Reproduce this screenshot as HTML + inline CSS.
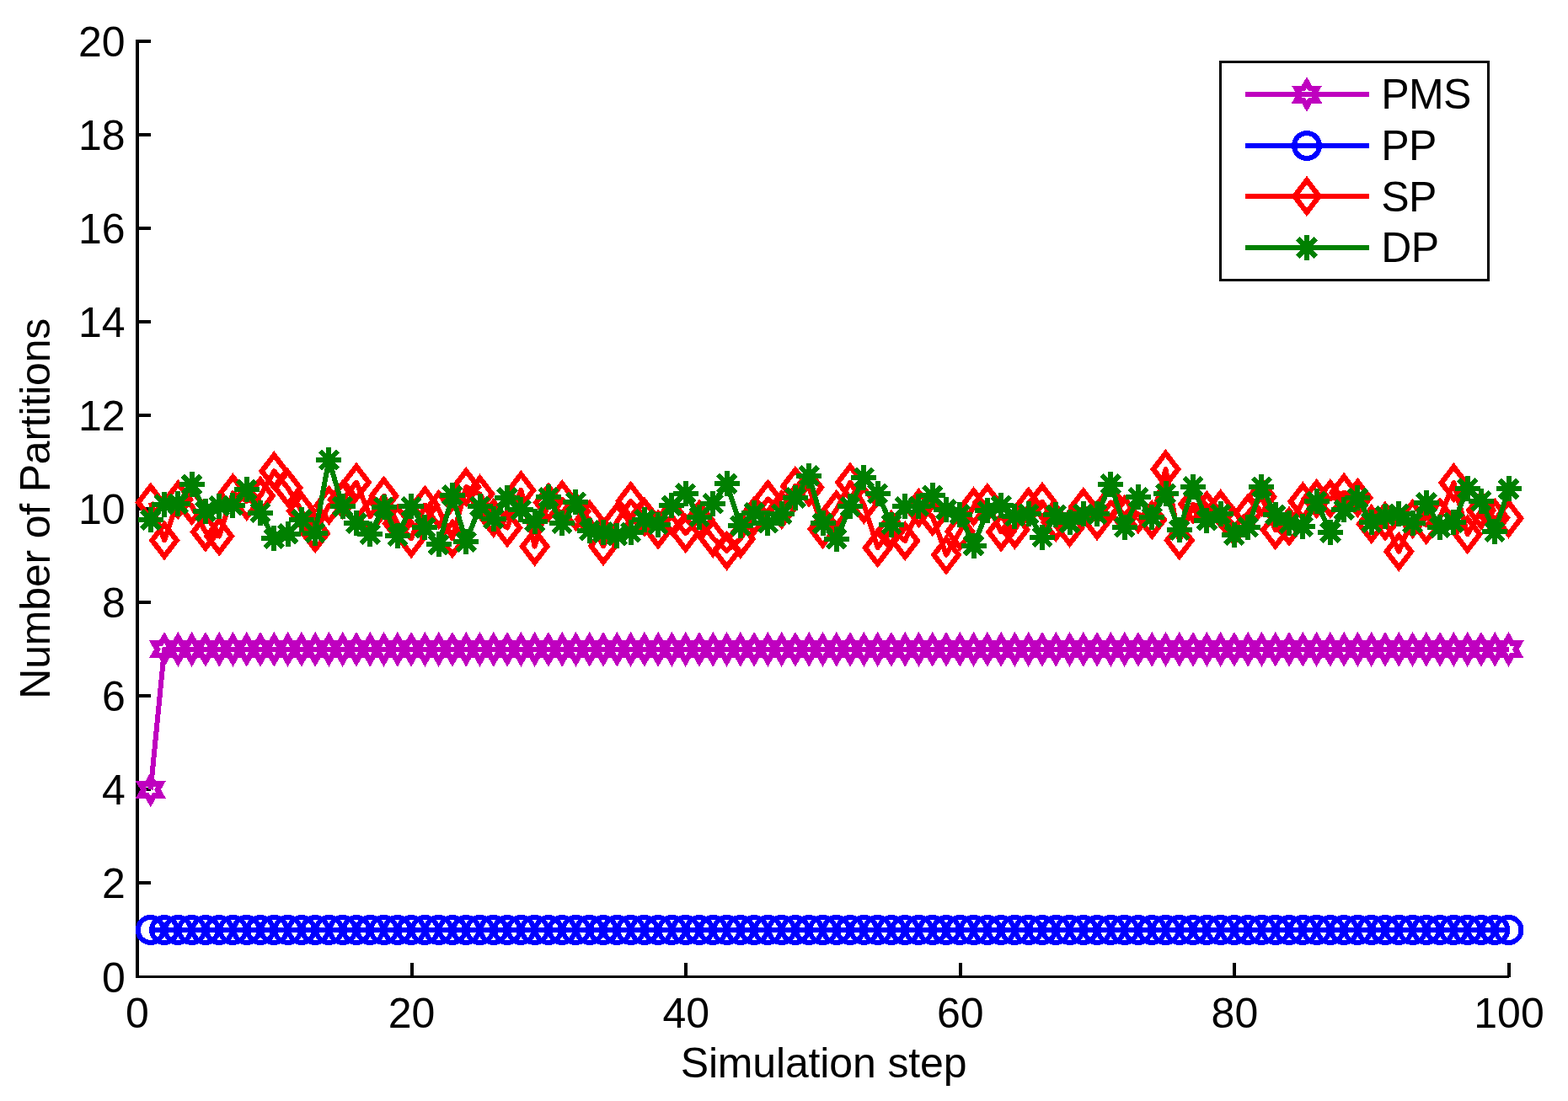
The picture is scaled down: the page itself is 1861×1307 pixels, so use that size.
<!DOCTYPE html>
<html lang="en"><head><meta charset="utf-8"><title>Number of Partitions vs Simulation step</title>
<style>html,body{margin:0;padding:0;background:#fff}body{width:1861px;height:1307px;overflow:hidden}svg{display:block}text{font-family:"Liberation Sans",Arial,Helvetica,sans-serif;font-size:50px;fill:#000}</style></head><body>
<svg width="1861" height="1307" viewBox="0 0 1861 1307">
<rect width="1861" height="1307" fill="#fff"/>
<defs>
<polygon id="mh" points="0,-14.2 4.1,-7.1 12.3,-7.1 8.2,0 12.3,7.1 4.1,7.1 0,14.2 -4.1,7.1 -12.3,7.1 -8.2,0 -12.3,-7.1 -4.1,-7.1" fill="none" stroke="#bf00bf" stroke-width="6.8" stroke-linejoin="miter" stroke-miterlimit="10"/>
<circle id="mc" r="15" fill="none" stroke="#00f" stroke-width="6"/>
<polygon id="md" points="0,-19 14.6,0 0,19 -14.6,0" fill="none" stroke="#f00" stroke-width="6.3" stroke-linejoin="miter" stroke-miterlimit="10"/>
<path id="ma" d="M-15,0H15M0,-15V15M-10.61,-10.61L10.61,10.61M-10.61,10.61L10.61,-10.61" fill="none" stroke="#008000" stroke-width="6"/>
</defs>
<g fill="#000" shape-rendering="crispEdges">
<rect x="161" y="47" width="4" height="1114"/>
<rect x="161" y="1158" width="1630" height="3"/>
<rect x="487" y="1143" width="4" height="17"/>
<rect x="812" y="1143" width="4" height="17"/>
<rect x="1138" y="1143" width="4" height="17"/>
<rect x="1463" y="1143" width="4" height="17"/>
<rect x="1789" y="1143" width="4" height="17"/>
<rect x="161" y="1046" width="18" height="4"/>
<rect x="161" y="935" width="18" height="4"/>
<rect x="161" y="824" width="18" height="4"/>
<rect x="161" y="713" width="18" height="4"/>
<rect x="161" y="602" width="18" height="4"/>
<rect x="161" y="491" width="18" height="4"/>
<rect x="161" y="380" width="18" height="4"/>
<rect x="161" y="269" width="18" height="4"/>
<rect x="161" y="158" width="18" height="4"/>
<rect x="161" y="47" width="18" height="4"/>
</g>
<g>
<text x="163" y="1219.5" text-anchor="middle">0</text>
<text x="488.6" y="1219.5" text-anchor="middle">20</text>
<text x="814.2" y="1219.5" text-anchor="middle">40</text>
<text x="1139.8" y="1219.5" text-anchor="middle">60</text>
<text x="1465.4" y="1219.5" text-anchor="middle">80</text>
<text x="1791" y="1219.5" text-anchor="middle">100</text>
<text x="148.7" y="1177.6" text-anchor="end">0</text>
<text x="148.7" y="1065.6" text-anchor="end">2</text>
<text x="148.7" y="954.6" text-anchor="end">4</text>
<text x="148.7" y="843.6" text-anchor="end">6</text>
<text x="148.7" y="732.6" text-anchor="end">8</text>
<text x="148.7" y="621.6" text-anchor="end">10</text>
<text x="148.7" y="510.6" text-anchor="end">12</text>
<text x="148.7" y="399.6" text-anchor="end">14</text>
<text x="148.7" y="288.6" text-anchor="end">16</text>
<text x="148.7" y="177.6" text-anchor="end">18</text>
<text x="148.7" y="66.6" text-anchor="end">20</text>
<text x="977.5" y="1279" text-anchor="middle" letter-spacing="-0.15">Simulation step</text>
<text transform="translate(59,603.8) rotate(-90)" text-anchor="middle" letter-spacing="-0.2">Number of Partitions</text>
</g>
<g shape-rendering="crispEdges">
<polyline points="178.78,937.4 195.06,770.83 211.34,770.83 227.62,770.83 243.9,770.83 260.18,770.83 276.46,770.83 292.74,770.83 309.02,770.83 325.3,770.83 341.58,770.83 357.86,770.83 374.14,770.83 390.42,770.83 406.7,770.83 422.98,770.83 439.26,770.83 455.54,770.83 471.82,770.83 488.1,770.83 504.38,770.83 520.66,770.83 536.94,770.83 553.22,770.83 569.5,770.83 585.78,770.83 602.06,770.83 618.34,770.83 634.62,770.83 650.9,770.83 667.18,770.83 683.46,770.83 699.74,770.83 716.02,770.83 732.3,770.83 748.58,770.83 764.86,770.83 781.14,770.83 797.42,770.83 813.7,770.83 829.98,770.83 846.26,770.83 862.54,770.83 878.82,770.83 895.1,770.83 911.38,770.83 927.66,770.83 943.94,770.83 960.22,770.83 976.5,770.83 992.78,770.83 1009.06,770.83 1025.34,770.83 1041.62,770.83 1057.9,770.83 1074.18,770.83 1090.46,770.83 1106.74,770.83 1123.02,770.83 1139.3,770.83 1155.58,770.83 1171.86,770.83 1188.14,770.83 1204.42,770.83 1220.7,770.83 1236.98,770.83 1253.26,770.83 1269.54,770.83 1285.82,770.83 1302.1,770.83 1318.38,770.83 1334.66,770.83 1350.94,770.83 1367.22,770.83 1383.5,770.83 1399.78,770.83 1416.06,770.83 1432.34,770.83 1448.62,770.83 1464.9,770.83 1481.18,770.83 1497.46,770.83 1513.74,770.83 1530.02,770.83 1546.3,770.83 1562.58,770.83 1578.86,770.83 1595.14,770.83 1611.42,770.83 1627.7,770.83 1643.98,770.83 1660.26,770.83 1676.54,770.83 1692.82,770.83 1709.1,770.83 1725.38,770.83 1741.66,770.83 1757.94,770.83 1774.22,770.83 1790.5,770.83" fill="none" stroke="#bf00bf" stroke-width="6" stroke-linejoin="round"/>
<use href="#mh" x="178.78" y="937.4"/>
<use href="#mh" x="195.06" y="770.83"/>
<use href="#mh" x="211.34" y="770.83"/>
<use href="#mh" x="227.62" y="770.83"/>
<use href="#mh" x="243.9" y="770.83"/>
<use href="#mh" x="260.18" y="770.83"/>
<use href="#mh" x="276.46" y="770.83"/>
<use href="#mh" x="292.74" y="770.83"/>
<use href="#mh" x="309.02" y="770.83"/>
<use href="#mh" x="325.3" y="770.83"/>
<use href="#mh" x="341.58" y="770.83"/>
<use href="#mh" x="357.86" y="770.83"/>
<use href="#mh" x="374.14" y="770.83"/>
<use href="#mh" x="390.42" y="770.83"/>
<use href="#mh" x="406.7" y="770.83"/>
<use href="#mh" x="422.98" y="770.83"/>
<use href="#mh" x="439.26" y="770.83"/>
<use href="#mh" x="455.54" y="770.83"/>
<use href="#mh" x="471.82" y="770.83"/>
<use href="#mh" x="488.1" y="770.83"/>
<use href="#mh" x="504.38" y="770.83"/>
<use href="#mh" x="520.66" y="770.83"/>
<use href="#mh" x="536.94" y="770.83"/>
<use href="#mh" x="553.22" y="770.83"/>
<use href="#mh" x="569.5" y="770.83"/>
<use href="#mh" x="585.78" y="770.83"/>
<use href="#mh" x="602.06" y="770.83"/>
<use href="#mh" x="618.34" y="770.83"/>
<use href="#mh" x="634.62" y="770.83"/>
<use href="#mh" x="650.9" y="770.83"/>
<use href="#mh" x="667.18" y="770.83"/>
<use href="#mh" x="683.46" y="770.83"/>
<use href="#mh" x="699.74" y="770.83"/>
<use href="#mh" x="716.02" y="770.83"/>
<use href="#mh" x="732.3" y="770.83"/>
<use href="#mh" x="748.58" y="770.83"/>
<use href="#mh" x="764.86" y="770.83"/>
<use href="#mh" x="781.14" y="770.83"/>
<use href="#mh" x="797.42" y="770.83"/>
<use href="#mh" x="813.7" y="770.83"/>
<use href="#mh" x="829.98" y="770.83"/>
<use href="#mh" x="846.26" y="770.83"/>
<use href="#mh" x="862.54" y="770.83"/>
<use href="#mh" x="878.82" y="770.83"/>
<use href="#mh" x="895.1" y="770.83"/>
<use href="#mh" x="911.38" y="770.83"/>
<use href="#mh" x="927.66" y="770.83"/>
<use href="#mh" x="943.94" y="770.83"/>
<use href="#mh" x="960.22" y="770.83"/>
<use href="#mh" x="976.5" y="770.83"/>
<use href="#mh" x="992.78" y="770.83"/>
<use href="#mh" x="1009.06" y="770.83"/>
<use href="#mh" x="1025.34" y="770.83"/>
<use href="#mh" x="1041.62" y="770.83"/>
<use href="#mh" x="1057.9" y="770.83"/>
<use href="#mh" x="1074.18" y="770.83"/>
<use href="#mh" x="1090.46" y="770.83"/>
<use href="#mh" x="1106.74" y="770.83"/>
<use href="#mh" x="1123.02" y="770.83"/>
<use href="#mh" x="1139.3" y="770.83"/>
<use href="#mh" x="1155.58" y="770.83"/>
<use href="#mh" x="1171.86" y="770.83"/>
<use href="#mh" x="1188.14" y="770.83"/>
<use href="#mh" x="1204.42" y="770.83"/>
<use href="#mh" x="1220.7" y="770.83"/>
<use href="#mh" x="1236.98" y="770.83"/>
<use href="#mh" x="1253.26" y="770.83"/>
<use href="#mh" x="1269.54" y="770.83"/>
<use href="#mh" x="1285.82" y="770.83"/>
<use href="#mh" x="1302.1" y="770.83"/>
<use href="#mh" x="1318.38" y="770.83"/>
<use href="#mh" x="1334.66" y="770.83"/>
<use href="#mh" x="1350.94" y="770.83"/>
<use href="#mh" x="1367.22" y="770.83"/>
<use href="#mh" x="1383.5" y="770.83"/>
<use href="#mh" x="1399.78" y="770.83"/>
<use href="#mh" x="1416.06" y="770.83"/>
<use href="#mh" x="1432.34" y="770.83"/>
<use href="#mh" x="1448.62" y="770.83"/>
<use href="#mh" x="1464.9" y="770.83"/>
<use href="#mh" x="1481.18" y="770.83"/>
<use href="#mh" x="1497.46" y="770.83"/>
<use href="#mh" x="1513.74" y="770.83"/>
<use href="#mh" x="1530.02" y="770.83"/>
<use href="#mh" x="1546.3" y="770.83"/>
<use href="#mh" x="1562.58" y="770.83"/>
<use href="#mh" x="1578.86" y="770.83"/>
<use href="#mh" x="1595.14" y="770.83"/>
<use href="#mh" x="1611.42" y="770.83"/>
<use href="#mh" x="1627.7" y="770.83"/>
<use href="#mh" x="1643.98" y="770.83"/>
<use href="#mh" x="1660.26" y="770.83"/>
<use href="#mh" x="1676.54" y="770.83"/>
<use href="#mh" x="1692.82" y="770.83"/>
<use href="#mh" x="1709.1" y="770.83"/>
<use href="#mh" x="1725.38" y="770.83"/>
<use href="#mh" x="1741.66" y="770.83"/>
<use href="#mh" x="1757.94" y="770.83"/>
<use href="#mh" x="1774.22" y="770.83"/>
<use href="#mh" x="1790.5" y="770.83"/>
</g>
<g shape-rendering="crispEdges">
<polyline points="178.78,1103.97 195.06,1103.97 211.34,1103.97 227.62,1103.97 243.9,1103.97 260.18,1103.97 276.46,1103.97 292.74,1103.97 309.02,1103.97 325.3,1103.97 341.58,1103.97 357.86,1103.97 374.14,1103.97 390.42,1103.97 406.7,1103.97 422.98,1103.97 439.26,1103.97 455.54,1103.97 471.82,1103.97 488.1,1103.97 504.38,1103.97 520.66,1103.97 536.94,1103.97 553.22,1103.97 569.5,1103.97 585.78,1103.97 602.06,1103.97 618.34,1103.97 634.62,1103.97 650.9,1103.97 667.18,1103.97 683.46,1103.97 699.74,1103.97 716.02,1103.97 732.3,1103.97 748.58,1103.97 764.86,1103.97 781.14,1103.97 797.42,1103.97 813.7,1103.97 829.98,1103.97 846.26,1103.97 862.54,1103.97 878.82,1103.97 895.1,1103.97 911.38,1103.97 927.66,1103.97 943.94,1103.97 960.22,1103.97 976.5,1103.97 992.78,1103.97 1009.06,1103.97 1025.34,1103.97 1041.62,1103.97 1057.9,1103.97 1074.18,1103.97 1090.46,1103.97 1106.74,1103.97 1123.02,1103.97 1139.3,1103.97 1155.58,1103.97 1171.86,1103.97 1188.14,1103.97 1204.42,1103.97 1220.7,1103.97 1236.98,1103.97 1253.26,1103.97 1269.54,1103.97 1285.82,1103.97 1302.1,1103.97 1318.38,1103.97 1334.66,1103.97 1350.94,1103.97 1367.22,1103.97 1383.5,1103.97 1399.78,1103.97 1416.06,1103.97 1432.34,1103.97 1448.62,1103.97 1464.9,1103.97 1481.18,1103.97 1497.46,1103.97 1513.74,1103.97 1530.02,1103.97 1546.3,1103.97 1562.58,1103.97 1578.86,1103.97 1595.14,1103.97 1611.42,1103.97 1627.7,1103.97 1643.98,1103.97 1660.26,1103.97 1676.54,1103.97 1692.82,1103.97 1709.1,1103.97 1725.38,1103.97 1741.66,1103.97 1757.94,1103.97 1774.22,1103.97 1790.5,1103.97" fill="none" stroke="#00f" stroke-width="6" stroke-linejoin="round"/>
<use href="#mc" x="178.78" y="1103.97"/>
<use href="#mc" x="195.06" y="1103.97"/>
<use href="#mc" x="211.34" y="1103.97"/>
<use href="#mc" x="227.62" y="1103.97"/>
<use href="#mc" x="243.9" y="1103.97"/>
<use href="#mc" x="260.18" y="1103.97"/>
<use href="#mc" x="276.46" y="1103.97"/>
<use href="#mc" x="292.74" y="1103.97"/>
<use href="#mc" x="309.02" y="1103.97"/>
<use href="#mc" x="325.3" y="1103.97"/>
<use href="#mc" x="341.58" y="1103.97"/>
<use href="#mc" x="357.86" y="1103.97"/>
<use href="#mc" x="374.14" y="1103.97"/>
<use href="#mc" x="390.42" y="1103.97"/>
<use href="#mc" x="406.7" y="1103.97"/>
<use href="#mc" x="422.98" y="1103.97"/>
<use href="#mc" x="439.26" y="1103.97"/>
<use href="#mc" x="455.54" y="1103.97"/>
<use href="#mc" x="471.82" y="1103.97"/>
<use href="#mc" x="488.1" y="1103.97"/>
<use href="#mc" x="504.38" y="1103.97"/>
<use href="#mc" x="520.66" y="1103.97"/>
<use href="#mc" x="536.94" y="1103.97"/>
<use href="#mc" x="553.22" y="1103.97"/>
<use href="#mc" x="569.5" y="1103.97"/>
<use href="#mc" x="585.78" y="1103.97"/>
<use href="#mc" x="602.06" y="1103.97"/>
<use href="#mc" x="618.34" y="1103.97"/>
<use href="#mc" x="634.62" y="1103.97"/>
<use href="#mc" x="650.9" y="1103.97"/>
<use href="#mc" x="667.18" y="1103.97"/>
<use href="#mc" x="683.46" y="1103.97"/>
<use href="#mc" x="699.74" y="1103.97"/>
<use href="#mc" x="716.02" y="1103.97"/>
<use href="#mc" x="732.3" y="1103.97"/>
<use href="#mc" x="748.58" y="1103.97"/>
<use href="#mc" x="764.86" y="1103.97"/>
<use href="#mc" x="781.14" y="1103.97"/>
<use href="#mc" x="797.42" y="1103.97"/>
<use href="#mc" x="813.7" y="1103.97"/>
<use href="#mc" x="829.98" y="1103.97"/>
<use href="#mc" x="846.26" y="1103.97"/>
<use href="#mc" x="862.54" y="1103.97"/>
<use href="#mc" x="878.82" y="1103.97"/>
<use href="#mc" x="895.1" y="1103.97"/>
<use href="#mc" x="911.38" y="1103.97"/>
<use href="#mc" x="927.66" y="1103.97"/>
<use href="#mc" x="943.94" y="1103.97"/>
<use href="#mc" x="960.22" y="1103.97"/>
<use href="#mc" x="976.5" y="1103.97"/>
<use href="#mc" x="992.78" y="1103.97"/>
<use href="#mc" x="1009.06" y="1103.97"/>
<use href="#mc" x="1025.34" y="1103.97"/>
<use href="#mc" x="1041.62" y="1103.97"/>
<use href="#mc" x="1057.9" y="1103.97"/>
<use href="#mc" x="1074.18" y="1103.97"/>
<use href="#mc" x="1090.46" y="1103.97"/>
<use href="#mc" x="1106.74" y="1103.97"/>
<use href="#mc" x="1123.02" y="1103.97"/>
<use href="#mc" x="1139.3" y="1103.97"/>
<use href="#mc" x="1155.58" y="1103.97"/>
<use href="#mc" x="1171.86" y="1103.97"/>
<use href="#mc" x="1188.14" y="1103.97"/>
<use href="#mc" x="1204.42" y="1103.97"/>
<use href="#mc" x="1220.7" y="1103.97"/>
<use href="#mc" x="1236.98" y="1103.97"/>
<use href="#mc" x="1253.26" y="1103.97"/>
<use href="#mc" x="1269.54" y="1103.97"/>
<use href="#mc" x="1285.82" y="1103.97"/>
<use href="#mc" x="1302.1" y="1103.97"/>
<use href="#mc" x="1318.38" y="1103.97"/>
<use href="#mc" x="1334.66" y="1103.97"/>
<use href="#mc" x="1350.94" y="1103.97"/>
<use href="#mc" x="1367.22" y="1103.97"/>
<use href="#mc" x="1383.5" y="1103.97"/>
<use href="#mc" x="1399.78" y="1103.97"/>
<use href="#mc" x="1416.06" y="1103.97"/>
<use href="#mc" x="1432.34" y="1103.97"/>
<use href="#mc" x="1448.62" y="1103.97"/>
<use href="#mc" x="1464.9" y="1103.97"/>
<use href="#mc" x="1481.18" y="1103.97"/>
<use href="#mc" x="1497.46" y="1103.97"/>
<use href="#mc" x="1513.74" y="1103.97"/>
<use href="#mc" x="1530.02" y="1103.97"/>
<use href="#mc" x="1546.3" y="1103.97"/>
<use href="#mc" x="1562.58" y="1103.97"/>
<use href="#mc" x="1578.86" y="1103.97"/>
<use href="#mc" x="1595.14" y="1103.97"/>
<use href="#mc" x="1611.42" y="1103.97"/>
<use href="#mc" x="1627.7" y="1103.97"/>
<use href="#mc" x="1643.98" y="1103.97"/>
<use href="#mc" x="1660.26" y="1103.97"/>
<use href="#mc" x="1676.54" y="1103.97"/>
<use href="#mc" x="1692.82" y="1103.97"/>
<use href="#mc" x="1709.1" y="1103.97"/>
<use href="#mc" x="1725.38" y="1103.97"/>
<use href="#mc" x="1741.66" y="1103.97"/>
<use href="#mc" x="1757.94" y="1103.97"/>
<use href="#mc" x="1774.22" y="1103.97"/>
<use href="#mc" x="1790.5" y="1103.97"/>
</g>
<g shape-rendering="crispEdges">
<polyline points="178.78,596.48 195.06,641.45 211.34,593.15 227.62,600.36 243.9,631.46 260.18,636.45 276.46,585.37 292.74,594.81 309.02,588.7 325.3,559.27 341.58,579.26 357.86,606.47 374.14,633.12 390.42,599.81 406.7,593.15 422.98,572.6 439.26,613.13 455.54,588.7 471.82,621.46 488.1,639.23 504.38,599.81 520.66,604.81 536.94,639.23 553.22,578.15 569.5,586.48 585.78,614.8 602.06,626.46 618.34,582.04 634.62,648.67 650.9,596.48 667.18,593.15 683.46,607.03 699.74,616.47 716.02,648.11 732.3,619.24 748.58,594.81 764.86,613.69 781.14,628.68 797.42,613.13 813.7,633.12 829.98,616.47 846.26,638.68 862.54,653.67 878.82,639.79 895.1,612.58 911.38,592.59 927.66,604.81 943.94,577.04 960.22,578.71 976.5,628.13 992.78,604.81 1009.06,572.6 1025.34,598.7 1041.62,650.34 1057.9,628.68 1074.18,642.01 1090.46,603.14 1106.74,613.13 1123.02,658.66 1139.3,630.9 1155.58,601.47 1171.86,597.03 1188.14,631.46 1204.42,628.68 1220.7,601.47 1236.98,595.92 1253.26,619.8 1269.54,626.46 1285.82,602.03 1302.1,618.13 1318.38,596.48 1334.66,610.91 1350.94,610.36 1367.22,617.02 1383.5,557.05 1399.78,641.45 1416.06,598.7 1432.34,605.92 1448.62,604.25 1464.9,624.79 1481.18,609.25 1497.46,589.81 1513.74,629.24 1530.02,624.79 1546.3,595.37 1562.58,592.03 1578.86,592.03 1595.14,584.82 1611.42,590.92 1627.7,622.02 1643.98,618.69 1660.26,654.78 1676.54,615.91 1692.82,623.13 1709.1,614.24 1725.38,573.16 1741.66,634.23 1757.94,605.92 1774.22,614.8 1790.5,615.35" fill="none" stroke="#f00" stroke-width="6" stroke-linejoin="round"/>
<use href="#md" x="178.78" y="596.48"/>
<use href="#md" x="195.06" y="641.45"/>
<use href="#md" x="211.34" y="593.15"/>
<use href="#md" x="227.62" y="600.36"/>
<use href="#md" x="243.9" y="631.46"/>
<use href="#md" x="260.18" y="636.45"/>
<use href="#md" x="276.46" y="585.37"/>
<use href="#md" x="292.74" y="594.81"/>
<use href="#md" x="309.02" y="588.7"/>
<use href="#md" x="325.3" y="559.27"/>
<use href="#md" x="341.58" y="579.26"/>
<use href="#md" x="357.86" y="606.47"/>
<use href="#md" x="374.14" y="633.12"/>
<use href="#md" x="390.42" y="599.81"/>
<use href="#md" x="406.7" y="593.15"/>
<use href="#md" x="422.98" y="572.6"/>
<use href="#md" x="439.26" y="613.13"/>
<use href="#md" x="455.54" y="588.7"/>
<use href="#md" x="471.82" y="621.46"/>
<use href="#md" x="488.1" y="639.23"/>
<use href="#md" x="504.38" y="599.81"/>
<use href="#md" x="520.66" y="604.81"/>
<use href="#md" x="536.94" y="639.23"/>
<use href="#md" x="553.22" y="578.15"/>
<use href="#md" x="569.5" y="586.48"/>
<use href="#md" x="585.78" y="614.8"/>
<use href="#md" x="602.06" y="626.46"/>
<use href="#md" x="618.34" y="582.04"/>
<use href="#md" x="634.62" y="648.67"/>
<use href="#md" x="650.9" y="596.48"/>
<use href="#md" x="667.18" y="593.15"/>
<use href="#md" x="683.46" y="607.03"/>
<use href="#md" x="699.74" y="616.47"/>
<use href="#md" x="716.02" y="648.11"/>
<use href="#md" x="732.3" y="619.24"/>
<use href="#md" x="748.58" y="594.81"/>
<use href="#md" x="764.86" y="613.69"/>
<use href="#md" x="781.14" y="628.68"/>
<use href="#md" x="797.42" y="613.13"/>
<use href="#md" x="813.7" y="633.12"/>
<use href="#md" x="829.98" y="616.47"/>
<use href="#md" x="846.26" y="638.68"/>
<use href="#md" x="862.54" y="653.67"/>
<use href="#md" x="878.82" y="639.79"/>
<use href="#md" x="895.1" y="612.58"/>
<use href="#md" x="911.38" y="592.59"/>
<use href="#md" x="927.66" y="604.81"/>
<use href="#md" x="943.94" y="577.04"/>
<use href="#md" x="960.22" y="578.71"/>
<use href="#md" x="976.5" y="628.13"/>
<use href="#md" x="992.78" y="604.81"/>
<use href="#md" x="1009.06" y="572.6"/>
<use href="#md" x="1025.34" y="598.7"/>
<use href="#md" x="1041.62" y="650.34"/>
<use href="#md" x="1057.9" y="628.68"/>
<use href="#md" x="1074.18" y="642.01"/>
<use href="#md" x="1090.46" y="603.14"/>
<use href="#md" x="1106.74" y="613.13"/>
<use href="#md" x="1123.02" y="658.66"/>
<use href="#md" x="1139.3" y="630.9"/>
<use href="#md" x="1155.58" y="601.47"/>
<use href="#md" x="1171.86" y="597.03"/>
<use href="#md" x="1188.14" y="631.46"/>
<use href="#md" x="1204.42" y="628.68"/>
<use href="#md" x="1220.7" y="601.47"/>
<use href="#md" x="1236.98" y="595.92"/>
<use href="#md" x="1253.26" y="619.8"/>
<use href="#md" x="1269.54" y="626.46"/>
<use href="#md" x="1285.82" y="602.03"/>
<use href="#md" x="1302.1" y="618.13"/>
<use href="#md" x="1318.38" y="596.48"/>
<use href="#md" x="1334.66" y="610.91"/>
<use href="#md" x="1350.94" y="610.36"/>
<use href="#md" x="1367.22" y="617.02"/>
<use href="#md" x="1383.5" y="557.05"/>
<use href="#md" x="1399.78" y="641.45"/>
<use href="#md" x="1416.06" y="598.7"/>
<use href="#md" x="1432.34" y="605.92"/>
<use href="#md" x="1448.62" y="604.25"/>
<use href="#md" x="1464.9" y="624.79"/>
<use href="#md" x="1481.18" y="609.25"/>
<use href="#md" x="1497.46" y="589.81"/>
<use href="#md" x="1513.74" y="629.24"/>
<use href="#md" x="1530.02" y="624.79"/>
<use href="#md" x="1546.3" y="595.37"/>
<use href="#md" x="1562.58" y="592.03"/>
<use href="#md" x="1578.86" y="592.03"/>
<use href="#md" x="1595.14" y="584.82"/>
<use href="#md" x="1611.42" y="590.92"/>
<use href="#md" x="1627.7" y="622.02"/>
<use href="#md" x="1643.98" y="618.69"/>
<use href="#md" x="1660.26" y="654.78"/>
<use href="#md" x="1676.54" y="615.91"/>
<use href="#md" x="1692.82" y="623.13"/>
<use href="#md" x="1709.1" y="614.24"/>
<use href="#md" x="1725.38" y="573.16"/>
<use href="#md" x="1741.66" y="634.23"/>
<use href="#md" x="1757.94" y="605.92"/>
<use href="#md" x="1774.22" y="614.8"/>
<use href="#md" x="1790.5" y="615.35"/>
</g>
<g shape-rendering="crispEdges">
<polyline points="178.78,617.02 195.06,598.7 211.34,598.14 227.62,575.38 243.9,607.03 260.18,600.92 276.46,599.81 292.74,581.48 309.02,608.69 325.3,639.23 341.58,633.68 357.86,617.02 374.14,632.57 390.42,545.95 406.7,601.47 422.98,620.91 439.26,634.23 455.54,602.03 471.82,636.45 488.1,601.47 504.38,626.46 520.66,646.45 536.94,588.15 553.22,643.12 569.5,600.92 585.78,615.91 602.06,590.92 618.34,605.36 634.62,619.24 650.9,590.37 667.18,621.46 683.46,595.92 699.74,629.79 716.02,632.01 732.3,635.9 748.58,632.01 764.86,617.02 781.14,622.57 797.42,600.36 813.7,585.93 829.98,613.69 846.26,597.59 862.54,574.27 878.82,624.24 895.1,608.69 911.38,620.91 927.66,610.36 943.94,590.92 960.22,564.83 976.5,621.46 992.78,639.79 1009.06,601.47 1025.34,567.05 1041.62,585.93 1057.9,622.57 1074.18,601.47 1090.46,600.92 1106.74,588.15 1123.02,604.81 1139.3,610.91 1155.58,647.56 1171.86,606.47 1188.14,600.36 1204.42,613.13 1220.7,610.36 1236.98,637.56 1253.26,611.47 1269.54,620.35 1285.82,610.36 1302.1,610.36 1318.38,574.82 1334.66,625.9 1350.94,590.37 1367.22,614.24 1383.5,585.93 1399.78,629.24 1416.06,577.6 1432.34,617.58 1448.62,610.36 1464.9,635.34 1481.18,625.9 1497.46,578.15 1513.74,611.47 1530.02,621.46 1546.3,625.35 1562.58,595.37 1578.86,632.01 1595.14,605.36 1611.42,591.48 1627.7,620.35 1643.98,612.58 1660.26,610.36 1676.54,620.91 1692.82,597.03 1709.1,625.9 1725.38,620.35 1741.66,579.82 1757.94,594.81 1774.22,631.46 1790.5,580.37" fill="none" stroke="#008000" stroke-width="6" stroke-linejoin="round"/>
<use href="#ma" x="178.78" y="617.02"/>
<use href="#ma" x="195.06" y="598.7"/>
<use href="#ma" x="211.34" y="598.14"/>
<use href="#ma" x="227.62" y="575.38"/>
<use href="#ma" x="243.9" y="607.03"/>
<use href="#ma" x="260.18" y="600.92"/>
<use href="#ma" x="276.46" y="599.81"/>
<use href="#ma" x="292.74" y="581.48"/>
<use href="#ma" x="309.02" y="608.69"/>
<use href="#ma" x="325.3" y="639.23"/>
<use href="#ma" x="341.58" y="633.68"/>
<use href="#ma" x="357.86" y="617.02"/>
<use href="#ma" x="374.14" y="632.57"/>
<use href="#ma" x="390.42" y="545.95"/>
<use href="#ma" x="406.7" y="601.47"/>
<use href="#ma" x="422.98" y="620.91"/>
<use href="#ma" x="439.26" y="634.23"/>
<use href="#ma" x="455.54" y="602.03"/>
<use href="#ma" x="471.82" y="636.45"/>
<use href="#ma" x="488.1" y="601.47"/>
<use href="#ma" x="504.38" y="626.46"/>
<use href="#ma" x="520.66" y="646.45"/>
<use href="#ma" x="536.94" y="588.15"/>
<use href="#ma" x="553.22" y="643.12"/>
<use href="#ma" x="569.5" y="600.92"/>
<use href="#ma" x="585.78" y="615.91"/>
<use href="#ma" x="602.06" y="590.92"/>
<use href="#ma" x="618.34" y="605.36"/>
<use href="#ma" x="634.62" y="619.24"/>
<use href="#ma" x="650.9" y="590.37"/>
<use href="#ma" x="667.18" y="621.46"/>
<use href="#ma" x="683.46" y="595.92"/>
<use href="#ma" x="699.74" y="629.79"/>
<use href="#ma" x="716.02" y="632.01"/>
<use href="#ma" x="732.3" y="635.9"/>
<use href="#ma" x="748.58" y="632.01"/>
<use href="#ma" x="764.86" y="617.02"/>
<use href="#ma" x="781.14" y="622.57"/>
<use href="#ma" x="797.42" y="600.36"/>
<use href="#ma" x="813.7" y="585.93"/>
<use href="#ma" x="829.98" y="613.69"/>
<use href="#ma" x="846.26" y="597.59"/>
<use href="#ma" x="862.54" y="574.27"/>
<use href="#ma" x="878.82" y="624.24"/>
<use href="#ma" x="895.1" y="608.69"/>
<use href="#ma" x="911.38" y="620.91"/>
<use href="#ma" x="927.66" y="610.36"/>
<use href="#ma" x="943.94" y="590.92"/>
<use href="#ma" x="960.22" y="564.83"/>
<use href="#ma" x="976.5" y="621.46"/>
<use href="#ma" x="992.78" y="639.79"/>
<use href="#ma" x="1009.06" y="601.47"/>
<use href="#ma" x="1025.34" y="567.05"/>
<use href="#ma" x="1041.62" y="585.93"/>
<use href="#ma" x="1057.9" y="622.57"/>
<use href="#ma" x="1074.18" y="601.47"/>
<use href="#ma" x="1090.46" y="600.92"/>
<use href="#ma" x="1106.74" y="588.15"/>
<use href="#ma" x="1123.02" y="604.81"/>
<use href="#ma" x="1139.3" y="610.91"/>
<use href="#ma" x="1155.58" y="647.56"/>
<use href="#ma" x="1171.86" y="606.47"/>
<use href="#ma" x="1188.14" y="600.36"/>
<use href="#ma" x="1204.42" y="613.13"/>
<use href="#ma" x="1220.7" y="610.36"/>
<use href="#ma" x="1236.98" y="637.56"/>
<use href="#ma" x="1253.26" y="611.47"/>
<use href="#ma" x="1269.54" y="620.35"/>
<use href="#ma" x="1285.82" y="610.36"/>
<use href="#ma" x="1302.1" y="610.36"/>
<use href="#ma" x="1318.38" y="574.82"/>
<use href="#ma" x="1334.66" y="625.9"/>
<use href="#ma" x="1350.94" y="590.37"/>
<use href="#ma" x="1367.22" y="614.24"/>
<use href="#ma" x="1383.5" y="585.93"/>
<use href="#ma" x="1399.78" y="629.24"/>
<use href="#ma" x="1416.06" y="577.6"/>
<use href="#ma" x="1432.34" y="617.58"/>
<use href="#ma" x="1448.62" y="610.36"/>
<use href="#ma" x="1464.9" y="635.34"/>
<use href="#ma" x="1481.18" y="625.9"/>
<use href="#ma" x="1497.46" y="578.15"/>
<use href="#ma" x="1513.74" y="611.47"/>
<use href="#ma" x="1530.02" y="621.46"/>
<use href="#ma" x="1546.3" y="625.35"/>
<use href="#ma" x="1562.58" y="595.37"/>
<use href="#ma" x="1578.86" y="632.01"/>
<use href="#ma" x="1595.14" y="605.36"/>
<use href="#ma" x="1611.42" y="591.48"/>
<use href="#ma" x="1627.7" y="620.35"/>
<use href="#ma" x="1643.98" y="612.58"/>
<use href="#ma" x="1660.26" y="610.36"/>
<use href="#ma" x="1676.54" y="620.91"/>
<use href="#ma" x="1692.82" y="597.03"/>
<use href="#ma" x="1709.1" y="625.9"/>
<use href="#ma" x="1725.38" y="620.35"/>
<use href="#ma" x="1741.66" y="579.82"/>
<use href="#ma" x="1757.94" y="594.81"/>
<use href="#ma" x="1774.22" y="631.46"/>
<use href="#ma" x="1790.5" y="580.37"/>
</g>
<g shape-rendering="crispEdges"><rect x="1447" y="72" width="321" height="262" fill="#000"/><rect x="1450" y="75" width="315" height="256" fill="#fff"/></g>
<g shape-rendering="crispEdges"><path d="M1478,112H1625" stroke="#bf00bf" stroke-width="6" fill="none"/><use href="#mh" x="1551" y="112"/></g>
<text x="1639.3" y="128.5" letter-spacing="-0.6">PMS</text>
<g shape-rendering="crispEdges"><path d="M1478,173H1625" stroke="#00f" stroke-width="6" fill="none"/><use href="#mc" x="1551" y="173"/></g>
<text x="1639.3" y="189.6" letter-spacing="-0.6">PP</text>
<g shape-rendering="crispEdges"><path d="M1478,233H1625" stroke="#f00" stroke-width="6" fill="none"/><use href="#md" x="1551" y="233"/></g>
<text x="1639.3" y="250.9" letter-spacing="-0.6">SP</text>
<g shape-rendering="crispEdges"><path d="M1478,294H1625" stroke="#008000" stroke-width="6" fill="none"/><use href="#ma" x="1551" y="294"/></g>
<text x="1639.3" y="311.1" letter-spacing="-0.6">DP</text>
</svg></body></html>
